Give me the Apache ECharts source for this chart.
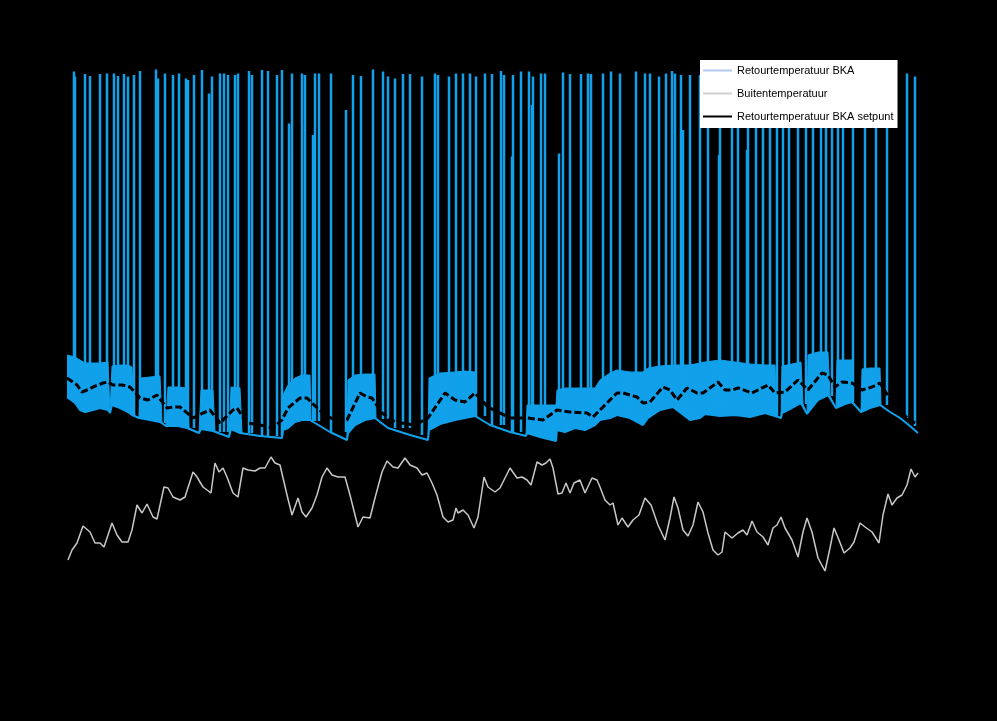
<!DOCTYPE html>
<html><head><meta charset="utf-8">
<script src="https://cdn.jsdelivr.net/npm/echarts@6/dist/echarts.min.js"></script>
<style>html,body{margin:0;padding:0;background:#000;}#chart{width:997px;height:721px;}</style>
</head><body><div id="chart"></div>
<script>
// Time axis in hours since start; temperatures in °C
const bandHour = [0,8,13,18,26,33,41,43,45,53,61,65,67,72,74,83,93,95,99,101,111,120,122,132,134,146,148,162,164,173,175,193,215,216,221,228,235,243,244,263,280,281,288,298,308,309,321,343,361,362,373,388,398,408,409,423,443,459,460,473,489,490,498,508,518,528,533,543,550,563,576,581,593,606,623,633,638,653,668,683,698,708,710,714,715,725,734,736,740,741,751,761,763,769,770,778,785,786,794,795,803,813,814,823,833,843,851];
const bandLow = [28.6,27.4,26.0,25.6,26.0,26.4,26.0,25.4,27.0,26.4,25.6,25.0,25.0,24.4,24.6,24.0,23.6,23.4,22.8,23.2,22.8,22.4,22.4,21.4,22.2,21.8,21.6,20.6,22.2,21.4,21.4,20.8,20.4,22.0,22.4,23.6,24.0,24.0,23.8,21.6,20.0,21.4,23.0,24.0,24.4,24.2,22.4,21.0,20.0,22.0,23.2,24.0,24.4,24.8,24.8,23.0,21.6,20.8,21.4,20.6,19.8,22.0,21.6,22.4,22.0,23.0,24.0,24.4,25.0,24.4,23.0,24.4,26.0,26.6,24.0,24.4,25.2,24.8,25.0,24.6,25.4,24.8,24.6,24.4,25.4,26.4,27.4,27.2,25.2,25.4,28.0,29.0,28.8,26.4,26.8,27.2,27.6,27.4,25.6,25.8,26.4,27.0,27.0,25.6,24.4,22.8,21.4];
const bandHigh = [37.0,36.6,36.0,35.4,35.4,35.4,35.6,25.4,34.8,35.0,35.0,34.6,25.0,24.4,32.4,32.6,32.8,23.4,22.8,30.6,30.6,30.4,22.4,21.4,30.0,30.0,21.6,20.6,30.6,30.4,21.4,20.8,20.4,29.0,31.0,32.4,33.0,33.0,23.8,21.6,20.0,32.0,33.0,33.2,33.2,24.2,22.4,21.0,20.0,32.4,33.4,33.6,33.8,33.6,24.8,23.0,21.6,20.8,27.0,27.0,27.0,30.0,30.4,30.4,30.4,30.4,32.0,33.4,34.0,33.6,33.6,34.4,34.8,35.0,35.0,35.4,35.6,36.0,35.6,35.2,35.0,35.0,24.6,24.4,34.8,35.2,35.6,27.2,25.2,37.0,37.6,37.6,28.8,26.4,36.0,36.0,36.0,27.4,25.6,34.2,34.4,34.4,27.0,25.6,24.4,22.8,21.4];

const spikeHour = [7,8,18,23,33,40,47,51,57,61,67,73,89,91,98,106,112,119,121,127,135,142,145,153,157,161,168,171,182,185,195,201,210,215,222,225,235,238,246,248,252,264,279,286,294,306,316,321,328,336,343,355,368,371,382,389,396,403,409,418,425,434,437,445,446,454,462,465,466,474,478,492,496,503,514,521,524,536,544,553,569,578,583,592,599,605,608,614,616,623,633,641,652,653,665,671,680,681,689,696,703,710,716,722,731,739,746,754,759,765,771,776,786,798,809,820,840,848];
const spikePeak = [93.7,92.7,93.2,92.8,93.2,93.3,93.3,92.8,93.2,92.7,93.0,93.8,94.1,92.3,93.3,93.0,93.3,92.3,92.0,93.0,94.0,89.3,92.7,93.3,93.3,93.0,93.0,93.3,93.8,93.0,94.0,93.8,93.0,94.0,83.3,93.3,93.3,93.0,81.0,93.3,93.3,93.3,86.0,93.0,92.8,94.1,93.7,92.7,92.3,93.2,93.2,92.7,93.3,93.0,92.7,93.3,93.3,93.3,92.7,93.3,93.2,93.8,93.0,76.7,93.0,93.7,93.7,87.0,92.7,93.3,93.3,77.3,93.5,93.2,93.2,93.3,93.2,93.3,93.7,93.3,93.7,93.3,93.3,92.7,93.3,93.8,93.3,93.0,82.0,93.0,93.0,93.0,77.0,93.0,93.0,93.0,78.0,93.0,93.0,93.0,93.0,93.0,93.0,93.0,93.0,93.0,93.0,93.0,93.0,93.0,93.0,93.0,93.0,93.0,93.0,93.0,93.3,92.7];

const outdoorHour = [1,5,10,16,23,28,33,37,45,50,55,61,65,70,75,80,86,90,97,101,106,113,118,126,130,136,144,148,152,156,160,166,171,176,181,188,193,198,204,208,213,220,225,231,235,239,245,250,255,260,265,271,278,283,286,291,296,303,308,315,320,326,331,338,343,350,355,360,365,370,376,381,386,389,391,396,401,407,411,417,421,428,433,438,443,450,455,460,464,470,475,479,483,486,491,495,499,503,507,513,518,525,530,533,538,543,546,551,555,561,566,572,578,584,591,598,603,607,611,616,621,626,631,636,641,646,651,655,658,665,671,676,680,685,690,696,701,706,710,714,718,725,731,736,740,745,751,758,763,767,772,777,783,787,793,798,805,812,816,821,825,830,835,840,844,848,851];
const outdoorTemp = [-4.0,-2.0,-0.6,2.8,1.6,-0.6,-0.6,-1.4,3.4,1.0,-0.4,-0.4,2.0,7.0,5.4,7.2,4.6,4.2,10.6,10.4,8.6,8.0,8.6,13.6,12.6,10.6,9.4,15.4,13.6,14.4,12.6,9.4,8.6,14.4,14.0,13.8,14.4,14.4,16.6,15.4,15.0,9.0,5.0,8.4,5.6,4.6,6.4,9.0,12.6,14.4,13.0,12.6,12.6,9.0,6.6,2.6,4.6,4.4,8.4,13.6,15.8,14.6,14.4,16.4,15.0,14.4,13.0,13.4,11.4,9.0,4.6,3.6,4.0,6.4,5.4,6.0,5.0,2.4,4.6,12.6,10.6,9.6,10.4,12.4,14.4,12.4,12.6,12.0,11.0,15.6,15.0,15.4,16.2,14.4,9.2,9.4,11.4,9.4,11.4,12.0,9.4,12.4,12.0,10.6,8.0,7.0,7.4,3.0,4.4,2.6,4.0,5.0,8.4,7.0,3.0,0.0,4.4,8.6,6.4,2.0,0.8,3.0,7.6,5.6,1.4,-2.0,-3.0,-2.4,1.6,0.4,1.4,2.0,1.0,3.8,1.6,0.6,-1.0,2.4,3.0,4.6,2.4,0.0,-3.4,1.6,4.4,1.6,-3.6,-6.2,-1.6,2.4,0.0,-2.6,-1.6,-0.4,3.4,2.6,1.6,-0.6,5.0,9.2,7.0,8.4,9.0,11.0,14.2,12.6,13.4];

const setHour = [0,10,15,20,26,36,41,46,55,63,73,81,90,100,106,113,126,136,143,153,166,170,180,193,206,215,221,233,240,245,258,268,280,293,300,305,315,328,348,361,378,388,398,408,421,443,460,476,490,503,520,526,533,550,556,570,576,583,596,603,610,620,630,636,651,658,665,671,685,701,708,718,731,741,755,761,768,775,785,795,805,813,828,845,851];
const setTemp = [32.4,31.0,29.6,30.0,30.6,31.4,31.6,31.0,31.0,30.6,28.4,28.0,29.0,26.4,26.6,26.6,24.4,25.4,26.0,23.4,26.0,26.4,23.4,23.0,22.4,24.0,26.4,28.4,28.4,27.4,25.0,24.0,24.0,29.4,28.6,28.4,25.4,23.6,23.0,24.4,29.4,28.0,27.6,29.4,26.6,24.4,24.4,24.0,26.0,25.6,25.4,24.6,26.0,29.4,29.4,28.6,27.4,27.6,30.6,30.0,28.0,30.4,29.4,29.4,31.6,30.0,30.0,30.4,29.4,31.0,29.4,29.6,32.0,30.0,33.4,33.0,30.6,31.6,31.4,30.0,30.6,31.4,26.6,23.6,23.4];

const seriesNames = ['Retourtemperatuur BKA', 'Buitentemperatuur', 'Retourtemperatuur BKA setpunt'];

const BLUE = '#11a0ea';
const BG = '#000';
const pair = (xs, ys) => xs.map((x, i) => [x, ys[i]]);

// each spike starts on the measured lower trace of the return temperature
function baseAt(h) {
  for (let j = 0; j < bandHour.length - 1; j++) {
    if (h >= bandHour[j] && h <= bandHour[j + 1]) return Math.max(bandLow[j], bandLow[j + 1]);
  }
  return bandLow[bandLow.length - 1];
}
const spikeData = [];
spikeHour.forEach((h, i) => {
  spikeData.push([h, baseAt(h)], [h, spikePeak[i]], [h, '-']);
});

const chart = echarts.init(document.getElementById('chart'), null, { renderer: 'canvas' });
chart.setOption({
  backgroundColor: BG,
  animation: false,
  grid: { left: 67, right: 79, top: 40, bottom: 81 },
  xAxis: { type: 'value', min: 0, max: 851, show: false },
  yAxis: { type: 'value', min: -20, max: 100, show: false },
  legend: {
    orient: 'vertical', left: 700, top: 60,
    backgroundColor: '#fff', borderWidth: 0,
    padding: [5, 4, 6, 3], itemGap: 12,
    itemWidth: 29, itemHeight: 2, icon: 'rect',
    textStyle: { color: '#000', fontSize: 11, fontFamily: 'Liberation Sans' },
    data: [
      { name: seriesNames[0], itemStyle: { color: '#b3c9ee' } },
      { name: seriesNames[1], itemStyle: { color: '#d0d0d0' } },
      { name: seriesNames[2], itemStyle: { color: '#000' } }
    ]
  },
  series: [
    // upper envelope of the oscillating return temperature, filled downwards
    { name: 'bandHigh', type: 'line', data: pair(bandHour, bandHigh), symbol: 'none', silent: true,
      lineStyle: { width: 1, color: BLUE }, areaStyle: { color: BLUE, opacity: 1, origin: 'start' } },
    // lower envelope: clears the fill beneath it back to the background
    { name: 'bandLowFill', type: 'line', data: pair(bandHour, bandLow), symbol: 'none', silent: true,
      lineStyle: { width: 0, opacity: 0 }, areaStyle: { color: BG, opacity: 1, origin: 'start' } },
    { name: seriesNames[0], type: 'line', data: pair(bandHour, bandLow), symbol: 'none',
      lineStyle: { width: 2, color: BLUE }, itemStyle: { color: BLUE } },
    { name: 'retourSpikes', type: 'line', data: spikeData, symbol: 'none', connectNulls: false,
      lineStyle: { width: 2.5, color: BLUE }, silent: true },
    { name: seriesNames[1], type: 'line', data: pair(outdoorHour, outdoorTemp), symbol: 'none',
      lineStyle: { width: 1.5, color: '#c8c8c8' }, itemStyle: { color: '#c8c8c8' } },
    { name: seriesNames[2], type: 'line', data: pair(setHour, setTemp), symbol: 'none',
      lineStyle: { width: 3, color: '#000', type: [7, 3] }, itemStyle: { color: '#000' } }
  ]
});
</script></body></html>
